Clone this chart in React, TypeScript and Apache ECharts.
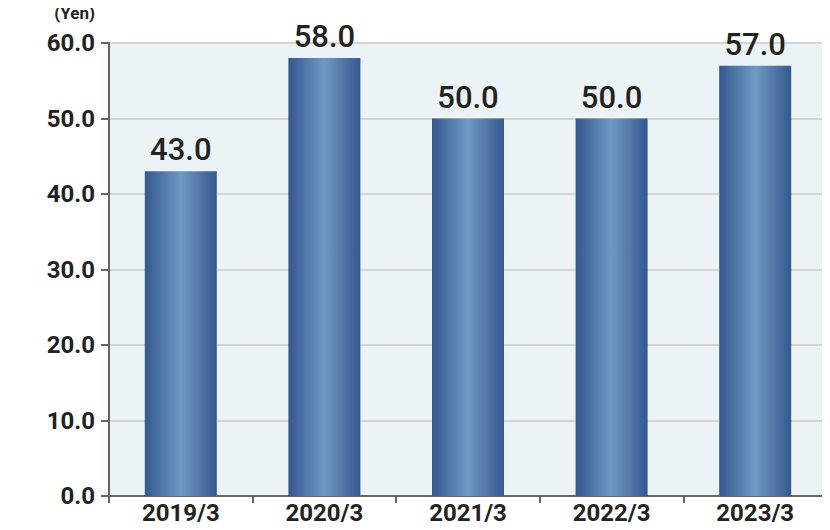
import React, { useEffect, useRef } from "react";
import * as echarts from "echarts";

const categories = ["2019/3", "2020/3", "2021/3", "2022/3", "2023/3"];
const dividends = [43.0, 58.0, 50.0, 50.0, 57.0];
const unitLabel = "(Yen)";

export default function App() {
  const ref = useRef<HTMLDivElement>(null);
  useEffect(() => {
    const chart = echarts.init(ref.current!, null, { renderer: "svg" });
    const grad = new echarts.graphic.LinearGradient(0, 0, 1, 0, [
      { offset: 0, color: "#355890" },
      { offset: 0.5, color: "#6f9ac3" },
      { offset: 1, color: "#355890" },
    ]);
    chart.setOption({
      animation: false,
      textStyle: { fontFamily: "Roboto" },
      grid: {
        left: 109,
        right: 3,
        top: 43,
        bottom: 34,
        show: true,
        backgroundColor: "#ebf3f5",
        borderWidth: 0,
      },
      xAxis: {
        type: "category",
        data: categories,
        axisLine: { lineStyle: { color: "#666", width: 2 } },
        axisTick: { show: true, length: 7, lineStyle: { color: "#666", width: 2 } },
        axisLabel: {
          color: "#222",
          fontFamily: "Roboto",
          fontSize: 24,
          fontWeight: "bold",
          margin: 5,
        },
      },
      yAxis: {
        type: "value",
        min: 0,
        max: 60,
        interval: 10,
        name: unitLabel,
        nameLocation: "end",
        nameGap: 22,
        nameTextStyle: {
          color: "#222",
          fontFamily: "Roboto",
          fontSize: 17,
          fontWeight: "bold",
          align: "right",
          padding: [0, 14, 0, 0],
        },
        axisLine: { show: true, lineStyle: { color: "#666", width: 2 } },
        axisTick: { show: true, length: 8, lineStyle: { color: "#666", width: 2 } },
        axisLabel: {
          color: "#222",
          fontFamily: "Roboto",
          fontSize: 24,
          fontWeight: "bold",
          margin: 14,
          formatter: (v: number) => v.toFixed(1),
        },
        splitLine: { lineStyle: { color: "#d4d4d4", width: 2 } },
      },
      series: [
        {
          type: "bar",
          data: dividends,
          barWidth: 72,
          itemStyle: { color: grad },
          label: {
            show: true,
            position: "top",
            distance: 6,
            color: "#222",
            fontFamily: "Roboto",
            fontSize: 31,
            fontWeight: 500,
            formatter: (p: any) => Number(p.value).toFixed(1),
          },
        },
      ],
    });
    return () => chart.dispose();
  }, []);
  return <div ref={ref} style={{ width: 830, height: 530, margin: -8 }} />;
}
